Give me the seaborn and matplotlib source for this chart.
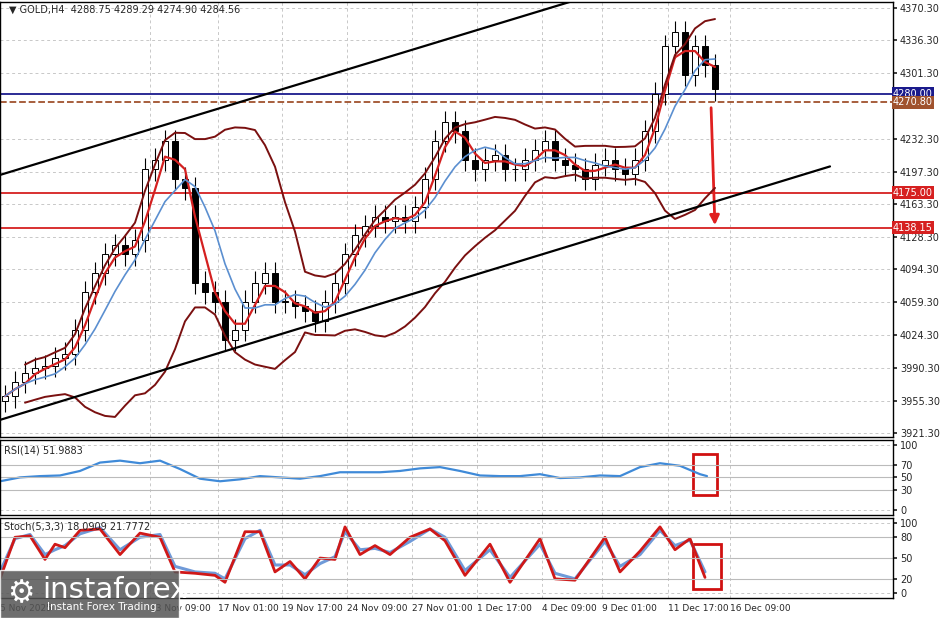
import matplotlib
matplotlib.use("Agg")
import matplotlib.pyplot as plt
import numpy as np
import pandas as pd
import seaborn as sns

sns.set_theme(style="white")
plt.rcParams["font.family"] = ["DejaVu Sans"]

# candles, one every 10 px of the original chart
closes = [3960, 3975, 3985, 3990, 3992, 4000, 4005, 4030, 4070, 4090,
          4110, 4120, 4110, 4125, 4200, 4210, 4230, 4190, 4180, 4080,
          4070, 4060, 4020, 4030, 4060, 4080, 4090, 4060, 4060, 4055,
          4050, 4040, 4060, 4080, 4110, 4130, 4140, 4150, 4145, 4150,
          4145, 4160, 4190, 4230, 4250, 4240, 4210, 4200, 4210, 4215,
          4200, 4200, 4210, 4220, 4230, 4210, 4205, 4200, 4190, 4205,
          4210, 4200, 4195, 4210, 4240, 4280, 4330, 4345, 4300, 4330,
          4310, 4284.56]
wick = 12

levels = [4280.00, 4270.80, 4175.00, 4138.15]
level_colors = ["#1a1a8c", "#a0522d", "#d62020", "#d62020"]

# channel lines (index units, price)
upper_channel = [(-0.5, 4194), (56.5, 4377)]
lower_channel = [(-0.5, 3935), (82.5, 4203)]

price_ticks = [4370.30, 4336.30, 4301.30, 4232.30, 4197.30, 4163.30, 4128.30,
               4094.30, 4059.30, 4024.30, 3990.30, 3955.30, 3921.30]
time_pos = [-0.5, 14.5, 21.3, 27.7, 34.2, 40.7, 47.2, 53.7, 59.7, 66.3, 72.5]
time_labels = ["5 Nov 2025", "13 Nov 09:00", "17 Nov 01:00", "19 Nov 17:00",
               "24 Nov 09:00", "27 Nov 01:00", "1 Dec 17:00", "4 Dec 09:00",
               "9 Dec 01:00", "11 Dec 17:00", "16 Dec 09:00"]

rsi_px = list(range(0, 701, 20)) + [707]
rsi_vals = [44, 50, 52, 53, 60, 73, 76, 72, 76, 63, 48, 44, 47, 52, 50, 48, 52, 58,
            58, 58, 60, 64, 66, 60, 53, 52, 52, 55, 49, 50, 53, 52, 66, 72, 68, 55, 52]

stoch_px = [0, 15, 30, 45, 55, 65, 80, 100, 120, 140, 160, 175, 195, 215, 225, 245,
            260, 275, 290, 305, 320, 335, 345, 360, 375, 390, 410, 430, 445, 465,
            490, 510, 540, 555, 575, 605, 620, 640, 660, 675, 690, 705]
stoch_main = [20, 80, 82, 48, 70, 65, 90, 92, 55, 86, 80, 30, 28, 25, 15, 88,
              88, 30, 45, 20, 50, 48, 95, 55, 68, 55, 80, 92, 75, 25,
              70, 15, 78, 20, 18, 80, 30, 60, 95, 62, 78, 22]
stoch_signal = [30, 78, 84, 55, 62, 68, 85, 94, 62, 80, 84, 38, 30, 28, 20, 78,
                90, 40, 40, 26, 42, 52, 88, 62, 64, 58, 74, 92, 80, 32,
                62, 22, 70, 28, 20, 74, 38, 55, 90, 68, 76, 30]

s = pd.Series(closes, dtype=float)
opens = [closes[0] - 5] + closes[:-1]
ma_fast = s.rolling(3, min_periods=1).mean()
ma_slow = s.rolling(6, min_periods=1).mean()
mid = s.rolling(12, min_periods=3).mean()
sd = s.rolling(12, min_periods=3).std()

fig = plt.figure(figsize=(9.4, 6.18), dpi=100)
ax = fig.add_axes([0.0, 0.293, 0.95, 0.704])
ax_rsi = fig.add_axes([0.0, 0.167, 0.95, 0.121])
ax_st = fig.add_axes([0.0, 0.032, 0.95, 0.130])
XMAX = 88.8

idx = np.arange(len(closes))
for i, (o, c) in enumerate(zip(opens, closes)):
    lo, hi = min(o, c), max(o, c)
    ax.vlines(i, lo - wick, hi + wick, color="black", lw=0.8, zorder=3)
    ax.bar(i, max(hi - lo, 0.8), bottom=lo, width=0.6,
           color="white" if c >= o else "black", edgecolor="black", lw=0.7, zorder=4)

sns.lineplot(x=idx, y=ma_fast, ax=ax, color="#d42020", lw=1.6, zorder=5)
sns.lineplot(x=idx, y=ma_slow, ax=ax, color="#5b8fd0", lw=1.2, zorder=5)
for band in (mid + 1.6 * sd, mid - 1.6 * sd):
    sns.lineplot(x=idx, y=band, ax=ax, color="#7a1010", lw=1.4, zorder=5)

for ch in (upper_channel, lower_channel):
    ax.plot([p[0] for p in ch], [p[1] for p in ch], color="black", lw=1.6, zorder=6)

for lv, col in zip(levels, level_colors):
    ls = "--" if col == "#a0522d" else "-"
    ax.axhline(lv, color=col, lw=1.3, ls=ls, zorder=2)
    ax.text(1.0, lv, f"{lv:.2f}", transform=ax.get_yaxis_transform(), ha="left",
            va="center", fontsize=7, color="white", zorder=10,
            bbox=dict(boxstyle="square,pad=0.15", fc=col, ec="none"))
ax.annotate("", xy=(71.0, 4138), xytext=(70.6, 4268),
            arrowprops=dict(arrowstyle="-|>", color="#e02020", lw=2, mutation_scale=14))

ax.set_ylim(3917, 4377)
ax.set_yticks(price_ticks)
ax.set_yticklabels([f"{t:.2f}" for t in price_ticks])
ax.text(0.01, 0.993, "\u25bc GOLD,H4  4288.75 4289.29 4274.90 4284.56",
        transform=ax.transAxes, fontsize=7, va="top")

sns.lineplot(x=[(p - 5) / 10 for p in rsi_px], y=rsi_vals, ax=ax_rsi,
             color="#3f8ad8", lw=1.6)
ax_rsi.set_ylim(-8, 108)
ax_rsi.set_yticks([0, 30, 50, 70, 100])
for lv in (30, 50, 70):
    ax_rsi.axhline(lv, color="#bbbbbb", lw=0.8)
ax_rsi.text(0.005, 0.93, "RSI(14) 51.9883", transform=ax_rsi.transAxes, fontsize=7, va="top")
ax_rsi.add_patch(plt.Rectangle((68.8, 22), 2.4, 64, fill=False, ec="#d01010", lw=2))

sns.lineplot(x=[(p - 5) / 10 for p in stoch_px], y=stoch_signal, ax=ax_st,
             color="#6f9ad8", lw=2.2)
sns.lineplot(x=[(p - 5) / 10 for p in stoch_px], y=stoch_main, ax=ax_st,
             color="#d01818", lw=2)
ax_st.set_ylim(-8, 108)
ax_st.set_yticks([0, 20, 50, 80, 100])
for lv in (20, 50, 80):
    ax_st.axhline(lv, color="#bbbbbb", lw=0.8)
ax_st.text(0.005, 0.95, "Stoch(5,3,3) 18.0909 21.7772", transform=ax_st.transAxes,
           fontsize=7, va="top")
ax_st.add_patch(plt.Rectangle((68.8, 5), 2.8, 66, fill=False, ec="#d01010", lw=2))

for a in (ax, ax_rsi, ax_st):
    a.set_xlim(-0.5, XMAX)
    a.yaxis.tick_right()
    a.tick_params(axis="y", labelsize=7, length=3, pad=2)
    a.set_xticks(time_pos)
    a.grid(True, axis="both", color="#c8c8c8", ls=(0, (3, 3)), lw=0.7)
    a.set_xlabel("")
    a.set_ylabel("")
    for sp in a.spines.values():
        sp.set_color("black")
        sp.set_linewidth(1)
ax.set_xticklabels([])
ax_rsi.set_xticklabels([])
ax_st.set_xticklabels(time_labels, fontsize=6.5, ha="left")
ax_st.tick_params(axis="x", length=3, pad=1)

# watermark
fig.patches.append(plt.Rectangle((0, 0), 0.19, 0.078, transform=fig.transFigure,
                                 fc="#555555", alpha=0.85, zorder=20))
fig.text(0.045, 0.045, "instaforex", fontsize=21, color="white", zorder=21, va="center")
fig.text(0.05, 0.013, "Instant Forex Trading", fontsize=7.5, color="white", zorder=21)
fig.text(0.008, 0.04, "\u2699", fontsize=22, color="white", zorder=21, va="center")

fig.savefig("out.png", dpi=100)
